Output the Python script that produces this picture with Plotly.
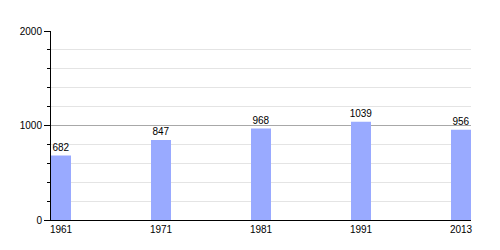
import plotly.graph_objects as go

years = ["1961", "1971", "1981", "1991", "2013"]
population = [682, 847, 968, 1039, 956]
y_ticks = [0, 1000, 2000]

pos = [i + 0.1 for i in range(len(years))]

fig = go.Figure()
fig.add_trace(go.Bar(
    x=pos, y=population, width=0.2,
    marker=dict(color="#99aaff", line=dict(width=0)),
    text=[str(v) for v in population], textposition="outside",
    constraintext="none",
    textfont=dict(color="black", size=10, family="Liberation Sans"),
    cliponaxis=False,
))

fig.update_layout(
    width=500, height=250,
    margin=dict(l=51, r=29, t=31, b=30),
    plot_bgcolor="white", paper_bgcolor="white",
    showlegend=False,
    font=dict(family="Liberation Sans", size=10, color="black"),
    xaxis=dict(range=[0, 4.2], tickvals=pos, ticktext=years, showgrid=False,
               showline=True, linecolor="black", linewidth=1, ticks="",
               zeroline=False, fixedrange=True, ticklabelstandoff=0),
    yaxis=dict(range=[0, 2000], tickvals=y_ticks, showgrid=True, gridcolor="#a8a8a8",
               gridwidth=1, showline=True, linecolor="black", linewidth=1,
               ticks="outside", ticklen=6, tickcolor="black", zeroline=False,
               minor=dict(dtick=200, ticks="outside", ticklen=3, tickcolor="black",
                          showgrid=True, gridcolor="#e4e4e4", gridwidth=1),
               fixedrange=True),
)

fig.write_html("out.html")
